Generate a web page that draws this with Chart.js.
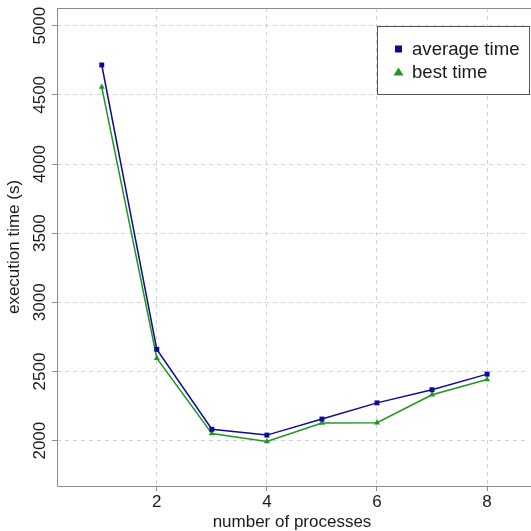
<!DOCTYPE html>
<html>
<head>
<meta charset="utf-8">
<script src="https://cdn.jsdelivr.net/npm/chart.js@4"></script>
<style>
  html, body { margin: 0; padding: 0; background: #fff; }
  #wrap { width: 531px; height: 531px; position: relative; }
</style>
</head>
<body>
<div id="wrap"><canvas id="timeChart"></canvas></div>
<script>
// processes vs execution time (s)
const processes = [1, 2, 3, 4, 5, 6, 7, 8];
const averageTime = [4716, 2660, 2082, 2040, 2156, 2273, 2368, 2481];
const bestTime = [4556, 2596, 2051, 1994, 2128, 2130, 2332, 2442];
const xTicks = [2, 4, 6, 8];
const yTicks = [2000, 2500, 3000, 3500, 4000, 4500, 5000];
const seriesNames = ['average time', 'best time'];

const FONT = "'Liberation Sans', Arial, Helvetica, sans-serif";
const BLUE = '#0c0c96';
const GREEN = '#1f961f';

function toPoints(vals) {
    return processes.map(function (p, i) { return { x: p, y: vals[i] }; });
}

// frame, rotated y labels and boxed legend like the R original
const extras = {
    id: 'extras',
    afterDraw: function (chart) {
        const ctx = chart.ctx;
        const a = chart.chartArea;
        ctx.save();
        ctx.strokeStyle = '#8c8c8c';
        ctx.lineWidth = 1;
        ctx.beginPath();
        ctx.moveTo(chart.width, a.top + 0.5);
        ctx.lineTo(a.left + 0.5, a.top + 0.5);
        ctx.lineTo(a.left + 0.5, a.bottom + 0.5);
        ctx.lineTo(chart.width, a.bottom + 0.5);
        ctx.stroke();

        // y tick labels, vertical
        const ys = chart.scales.y;
        ctx.fillStyle = '#1a1a1a';
        ctx.font = '17px ' + FONT;
        ctx.textAlign = 'center';
        ctx.textBaseline = 'middle';
        ys.ticks.forEach(function (t) {
            const py = ys.getPixelForValue(t.value);
            ctx.save();
            ctx.translate(40, py);
            ctx.rotate(-Math.PI / 2);
            ctx.fillText(String(t.value), 0, 0);
            ctx.restore();
        });

        // legend
        ctx.fillStyle = '#fff';
        ctx.fillRect(377, 26, 152, 68);
        ctx.strokeStyle = '#555';
        ctx.strokeRect(377.5, 26.5, 152, 68);
        ctx.font = '18.6px ' + FONT;
        ctx.textAlign = 'left';
        chart.data.datasets.forEach(function (ds, i) {
            const cy = 49 + i * 23;
            ctx.fillStyle = ds.borderColor;
            if (ds.pointStyle === 'rect') {
                ctx.fillRect(395, cy - 3.5, 7, 7);
            } else {
                ctx.beginPath();
                ctx.moveTo(398.5, cy - 4.5);
                ctx.lineTo(403.5, cy + 3.5);
                ctx.lineTo(393.5, cy + 3.5);
                ctx.closePath();
                ctx.fill();
            }
            ctx.fillStyle = '#1a1a1a';
            ctx.fillText(ds.label, 412, cy + 1);
        });
        ctx.restore();
    }
};

const ctx = document.getElementById('timeChart').getContext('2d');
new Chart(ctx, {
    type: 'line',
    data: {
        datasets: [{
            label: seriesNames[0],
            data: toPoints(averageTime),
            borderColor: BLUE,
            backgroundColor: BLUE,
            borderWidth: 1.5,
            pointStyle: 'rect',
            pointRadius: 3.5,
            pointBorderWidth: 0,
            tension: 0
        }, {
            label: seriesNames[1],
            data: toPoints(bestTime),
            borderColor: GREEN,
            backgroundColor: GREEN,
            borderWidth: 1.5,
            pointStyle: 'triangle',
            pointRadius: 3.5,
            pointBorderWidth: 0,
            tension: 0
        }]
    },
    options: {
        responsive: true,
        maintainAspectRatio: false,
        animation: false,
        layout: { padding: { top: 8, left: 0, right: 0, bottom: 0 } },
        scales: {
            x: {
                type: 'linear',
                min: 0.187,
                max: 8.725,
                afterBuildTicks: function (s) { s.ticks = xTicks.map(function (v) { return { value: v }; }); },
                afterFit: function (s) { s.height = 45; },
                grid: {
                    color: '#d3d3d3',
                    tickColor: '#8c8c8c',
                    tickBorderDash: [],
                    tickLength: 5
                },
                border: { display: false, dash: [4, 4] },
                ticks: {
                    color: '#1a1a1a',
                    font: { family: FONT, size: 17 },
                    padding: 1,
                    maxRotation: 0
                },
                title: {
                    display: true,
                    text: 'number of processes',
                    color: '#1a1a1a',
                    font: { family: FONT, size: 17, lineHeight: 1 },
                    padding: 0
                }
            },
            y: {
                min: 1672,
                max: 5128,
                afterBuildTicks: function (s) { s.ticks = yTicks.map(function (v) { return { value: v }; }); },
                afterFit: function (s) { s.width = 57; },
                grid: {
                    color: '#d3d3d3',
                    tickColor: '#8c8c8c',
                    tickBorderDash: [],
                    tickLength: 5
                },
                border: { display: false, dash: [4, 4] },
                ticks: { display: false },
                title: {
                    display: true,
                    text: 'execution time (s)',
                    color: '#1a1a1a',
                    font: { family: FONT, size: 17 },
                    padding: { top: 4, bottom: 0 }
                }
            }
        },
        plugins: {
            legend: { display: false },
            tooltip: { enabled: false }
        }
    },
    plugins: [extras]
});
</script>
</body>
</html>
